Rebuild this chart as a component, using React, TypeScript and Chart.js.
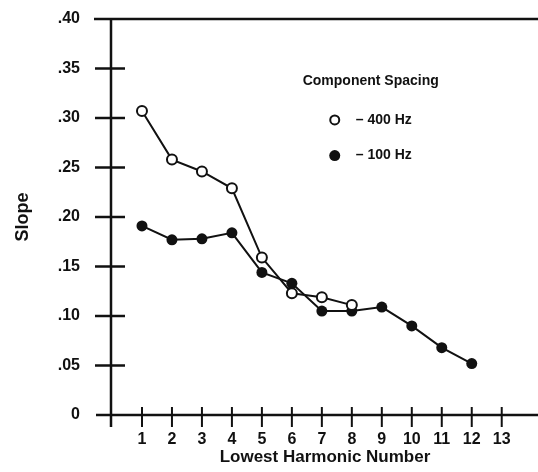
import React, { useEffect, useRef } from "react";
import { Chart, registerables } from "chart.js";

Chart.register(...registerables);

const harmonics400 = [1, 2, 3, 4, 5, 6, 7, 8];
const slope400 = [0.307, 0.258, 0.246, 0.229, 0.159, 0.123, 0.119, 0.111];
const harmonics100 = [1, 2, 3, 4, 5, 6, 7, 8, 9, 10, 11, 12];
const slope100 = [0.191, 0.177, 0.178, 0.184, 0.144, 0.133, 0.105, 0.105, 0.109, 0.09, 0.068, 0.052];

const xTickValues = [1, 2, 3, 4, 5, 6, 7, 8, 9, 10, 11, 12, 13];
const xTickLabels = ["1", "2", "3", "4", "5", "6", "7", "8", "9", "10", "11", "12", "13"];
const yTickValues = [0, 0.05, 0.1, 0.15, 0.2, 0.25, 0.3, 0.35, 0.4];
const yTickLabels = ["0", ".05", ".10", ".15", ".20", ".25", ".30", ".35", ".40"];

const legendTitle = "Component Spacing";
const seriesLabels = ["\u2013 400 Hz", "\u2013 100 Hz"];
const xTitle = "Lowest Harmonic Number";
const yTitle = "Slope";

const FONT = "'Liberation Sans', Arial, sans-serif";

const axesPlugin = {
  id: "paperAxes",
  afterDatasetsDraw(chart: any) {
    const { ctx, chartArea } = chart;
    const xs = chart.scales.x;
    const ys = chart.scales.y;
    ctx.save();
    ctx.strokeStyle = "#111";
    ctx.lineCap = "butt";
    // top frame line
    ctx.lineWidth = 2.5;
    ctx.beginPath();
    ctx.moveTo(chartArea.left - 18, chartArea.top);
    ctx.lineTo(chartArea.right, chartArea.top);
    ctx.stroke();
    // y axis line
    const yAxisX = xs.getPixelForValue(0) - 1;
    ctx.beginPath();
    ctx.moveTo(yAxisX, chartArea.top);
    ctx.lineTo(yAxisX, chartArea.bottom + 12);
    ctx.stroke();
    // x axis line
    const y0 = ys.getPixelForValue(0);
    ctx.beginPath();
    ctx.moveTo(chartArea.left - 16, y0);
    ctx.lineTo(chartArea.right, y0);
    ctx.stroke();
    // y ticks
    ctx.lineWidth = 2.5;
    yTickValues.forEach((v) => {
      if (v === 0 || v === 0.4) return;
      const py = ys.getPixelForValue(v);
      ctx.beginPath();
      ctx.moveTo(yAxisX - 16, py);
      ctx.lineTo(yAxisX + 14, py);
      ctx.stroke();
    });
    // x ticks
    ctx.lineWidth = 2;
    xTickValues.forEach((v) => {
      const px = xs.getPixelForValue(v);
      ctx.beginPath();
      ctx.moveTo(px, y0 - 8);
      ctx.lineTo(px, y0 + 12);
      ctx.stroke();
    });
    // legend
    ctx.fillStyle = "#111";
    ctx.font = `bold 14px ${FONT}`;
    ctx.textAlign = "center";
    ctx.textBaseline = "middle";
    ctx.fillText(legendTitle, xs.getPixelForValue(8.63), ys.getPixelForValue(0.337));
    const mx = xs.getPixelForValue(7.43);
    const tx = xs.getPixelForValue(8.13);
    const rowY = [ys.getPixelForValue(0.298), ys.getPixelForValue(0.262)];
    ctx.lineWidth = 2;
    ctx.beginPath();
    ctx.arc(mx, rowY[0], 4.5, 0, Math.PI * 2);
    ctx.fillStyle = "#fff";
    ctx.fill();
    ctx.stroke();
    ctx.beginPath();
    ctx.arc(mx, rowY[1], 5.5, 0, Math.PI * 2);
    ctx.fillStyle = "#111";
    ctx.fill();
    ctx.textAlign = "left";
    ctx.fillStyle = "#111";
    ctx.fillText(seriesLabels[0], tx, rowY[0]);
    ctx.fillText(seriesLabels[1], tx, rowY[1]);
    ctx.restore();
  },
};

export default function App() {
  const ref = useRef<HTMLCanvasElement | null>(null);
  useEffect(() => {
    if (!ref.current) return;
    const chart = new Chart(ref.current, {
      type: "line",
      data: {
        datasets: [
          {
            label: seriesLabels[0],
            data: harmonics400.map((x, i) => ({ x, y: slope400[i] })),
            borderColor: "#111",
            borderWidth: 2,
            pointRadius: 5,
            pointBorderWidth: 2,
            pointBackgroundColor: "#fff",
            pointBorderColor: "#111",
            tension: 0,
          },
          {
            label: seriesLabels[1],
            data: harmonics100.map((x, i) => ({ x, y: slope100[i] })),
            borderColor: "#111",
            borderWidth: 2,
            pointRadius: 5.5,
            pointBorderWidth: 0,
            pointBackgroundColor: "#111",
            pointBorderColor: "#111",
            tension: 0,
          },
        ],
      },
      options: {
        responsive: false,
        animation: false,
        devicePixelRatio: 1,
        layout: { autoPadding: false, padding: { left: 0, right: 0, top: 19, bottom: 0 } },
        plugins: { legend: { display: false }, tooltip: { enabled: false } },
        scales: {
          x: {
            type: "linear",
            min: 0,
            max: 14.21,
            grid: { display: false, drawTicks: true, tickLength: 15 },
            border: { display: false },
            afterFit: (s: any) => {
              s.height = 57;
              s.paddingLeft = 0;
              s.paddingRight = 0;
            },
            afterBuildTicks: (s: any) => {
              s.ticks = xTickValues.map((v) => ({ value: v }));
            },
            ticks: {
              autoSkip: false,
              maxRotation: 0,
              padding: 0,
              color: "#111",
              font: { family: FONT, size: 16, weight: "bold" },
              callback: (v: any) => {
                const i = xTickValues.indexOf(Number(v));
                return i >= 0 ? xTickLabels[i] : "";
              },
            },
            title: {
              display: true,
              text: xTitle,
              color: "#111",
              font: { family: FONT, size: 17, weight: "bold" },
              padding: { top: 0, bottom: 4 },
            },
          },
          y: {
            type: "linear",
            min: 0,
            max: 0.4,
            grid: { display: false, drawTicks: true, tickLength: 32 },
            border: { display: false },
            afterFit: (s: any) => {
              s.width = 112;
              s.paddingTop = 0;
              s.paddingBottom = 0;
            },
            afterBuildTicks: (s: any) => {
              s.ticks = yTickValues.map((v) => ({ value: v }));
            },
            ticks: {
              autoSkip: false,
              padding: 0,
              color: "#111",
              font: { family: FONT, size: 16, weight: "bold" },
              callback: (v: any) => {
                const i = yTickValues.findIndex((t) => Math.abs(t - Number(v)) < 1e-6);
                return i >= 0 ? yTickLabels[i] : "";
              },
            },
            title: {
              display: true,
              text: yTitle,
              color: "#111",
              font: { family: FONT, size: 18, weight: "bold" },
              padding: { top: 12, bottom: 0 },
            },
          },
        },
      },
      plugins: [axesPlugin],
    });
    return () => chart.destroy();
  }, []);
  return (
    <div style={{ position: "absolute", left: 0, top: 0, width: 538, height: 472, background: "#fff" }}>
      <canvas ref={ref} width={538} height={472} style={{ display: "block", width: 538, height: 472 }} />
    </div>
  );
}
